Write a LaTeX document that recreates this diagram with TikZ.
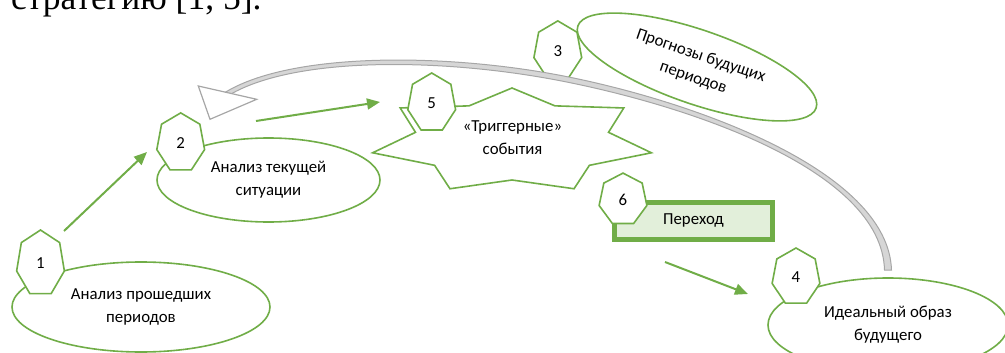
\documentclass[tikz,border=0pt]{standalone}
\usepackage{fontspec}
\setmainfont{Carlito}
\newfontfamily\docserif{Liberation Serif}
\usetikzlibrary{shapes.geometric}
\usetikzlibrary{arrows.meta}
\usetikzlibrary{calc}

\definecolor{offgreen}{HTML}{70AD47}
\definecolor{palegreen}{HTML}{E2EFDA}
\definecolor{bandgray}{HTML}{A6A6A6}
\definecolor{bandfill}{HTML}{D6D6D6}

\begin{document}
\begin{tikzpicture}[
    x=1pt, y=-1pt,                             % page grid, y runs downwards
    font=\fontsize{16.8}{23}\selectfont,       % body text of the boxes
    ]
% -------------------------------------------------
\tikzset{
  oval/.style={draw=offgreen, line width=1.6pt, ellipse, fill=white, inner sep=0pt, align=center},
  hept/.style={draw=offgreen, line width=1.6pt, fill=white},
  num/.style={inner sep=0pt},
  burst/.style={draw=offgreen, line width=1.6pt, fill=white},
  trans/.style={draw=offgreen, line width=5pt, fill=palegreen, rectangle, minimum width=158pt, minimum height=37pt},
  flow/.style={draw=offgreen, line width=2pt, -{Triangle[length=13pt,width=11pt]}},
  band/.style={draw=bandgray, line width=1pt, fill=bandfill},
  head/.style={draw=bandgray, line width=1.2pt, fill=white},
}
% -------------------------------------------------
\useasboundingbox (0,0) rectangle (1005,353);
\clip (0,0) rectangle (1005,353);

% text of the page above the figure
\node [anchor=base west, inner sep=0pt, font=\docserif\fontsize{35.5}{40}\selectfont] (cite) at (11,10) {стратегию [1, 5].};

% Placing the ovals
\node [oval, minimum width=258pt, minimum height=90pt] (past) at (141,307) {Анализ прошедших\\периодов};
\node [oval, minimum width=223pt, minimum height=84pt] (now) at (268.5,180) {Анализ текущей\\ситуации};
\node [oval, minimum width=252pt, minimum height=74pt, rotate=-19] (fcst) at (697,67) {Прогнозы будущих\\периодов};
\node [oval, minimum width=240pt, minimum height=94pt] (ideal) at (888,325) {Идеальный образ\\будущего};

% seven-point burst with the trigger events
\draw [burst] plot [samples at={0,...,13}, variable=\k]
  ({512+(mod(\k,2)==0 ? 143 : 99)*sin(\k*360/14)}, {141-(mod(\k,2)==0 ? 53 : 39)*cos(\k*360/14)}) -- cycle;
\node [align=center] (trig) at (512.5,138) {«Триггерные»\\события};

\node [trans] (step) at (693.5,220.5) {Переход};

% numbered heptagons
\foreach \n/\cx/\cy/\ry in {1/40.5/263.5/33.5, 2/180.7/142.9/30, 3/557.8/50.9/30,
                            4/796/277/29, 5/431.7/103/30, 6/623/199.6/26.5}{
  \draw [hept] plot [samples at={0,...,6}, variable=\k]
    ({\cx+24.5*sin(\k*360/7)}, {\cy-\ry*cos(\k*360/7)}) -- cycle;
  \node [num] (h\n) at (\cx,\cy) {\n};
}

% arrows
\coordinate (a1s) at (64,231);  \coordinate (a1e) at (147,152);
\coordinate (a2s) at (256,121); \coordinate (a2e) at (380,102);
\coordinate (a3s) at (665,262); \coordinate (a3e) at (748,294);
\path [flow] (a1s) -- (a1e);
\path [flow] (a2s) -- (a2e);
\path [flow] (a3s) -- (a3e);

% back loop from the ideal image, narrowing towards its head
\coordinate (ret) at (888,270);
\coordinate (rethead) at (222,97);
\filldraw [band] ($(ret)+(3.5,0)$) .. controls (888.3,170) and (690.5,100.3) .. (560.5,75.4)
      .. controls (440.5,52.5) and (283.7,52.2) .. ($(rethead)+(-1.25,-1.8)$)
      -- ($(rethead)+(1.25,1.8)$) .. controls (286.3,55.8) and (439.5,57.5) .. (559.5,80.6)
      .. controls (689.5,105.7) and (881.7,170) .. ($(ret)+(-3.5,0)$) -- cycle;
\filldraw [head] (198.3,86) -- (256.7,99.3) -- (210,119.3) -- cycle;

\end{tikzpicture}
\end{document}
